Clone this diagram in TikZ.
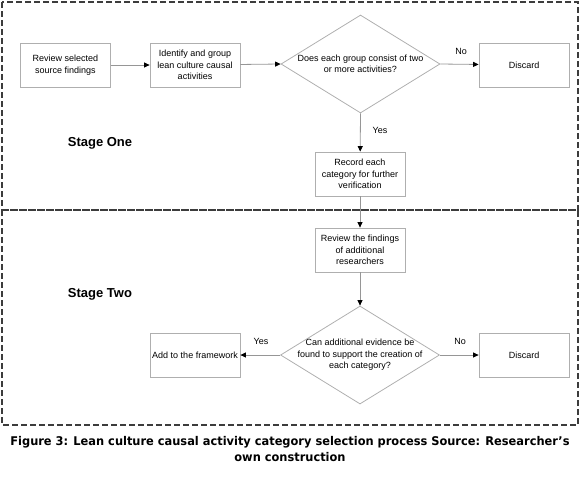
\documentclass[tikz,border=0pt]{standalone}
\usepackage{fontspec}
\setmainfont{Liberation Sans}
\newfontfamily\capfont{DejaVu Sans}
\usetikzlibrary{shapes.geometric,arrows.meta}
\definecolor{boxgray}{RGB}{175,175,175}
\definecolor{linegray}{RGB}{150,150,150}
\definecolor{framegray}{RGB}{60,60,60}
\begin{document}
\begin{tikzpicture}[x=1pt,y=-1pt,
 box/.style={draw=boxgray, line width=0.8pt, minimum width=90pt, minimum height=44pt, inner sep=1pt, align=center, font=\fontsize{9}{11.5}\selectfont},
 dia/.style={draw=boxgray, diamond, inner sep=0pt, minimum width=159pt, minimum height=98pt, line width=0.8pt},
 diatext/.style={align=center, font=\fontsize{9}{11.5}\selectfont},
 flow/.style={draw=linegray, line width=0.8pt, -{Triangle[length=5.5pt,width=5pt,color=black]}},
 lbl/.style={font=\fontsize{9}{11}\selectfont},
 stage/.style={font=\bfseries\fontsize{13}{15}\selectfont},
 frame/.style={draw=framegray, dash pattern=on 6pt off 3pt, line width=1.3pt},
 captext/.style={font=\capfont\bfseries\fontsize{12}{15}\selectfont}]
\useasboundingbox (0,0) rectangle (580,483);
% frames
\draw[frame] (2,2) rectangle (578,210);
\draw[frame] (2,210) rectangle (578,425);
% stage one
\node[box] (b1) at (65.5,65) {Review selected\\source findings};
\node[box] (b2) at (195,65) {Identify and group\\lean culture causal\\activities};
\node[dia] (d1) at (360.5,64) {};
\node[diatext] (d1t) at (d1.center) {Does each group consist of two\\or more activities?};
\node[box] (disc1) at (524,65) {Discard};
\node[box] (rec) at (360,174) {Record each\\category for further\\verification};
\node[stage] (s1) at (100,143) {Stage One};
% stage two
\node[box] (rev) at (360,250) {Review the findings\\of additional\\researchers};
\node[dia] (d2) at (360,355) {};
\node[diatext] (d2t) at (d2.center) {Can additional evidence be\\found to support the creation of\\each category?};
\node[box] (disc2) at (524,355) {Discard};
\node[box] (add) at (195,355) {Add to the framework};
\node[stage] (s2) at (100,294) {Stage Two};
% connectors
\draw[flow] (b1) -- (b2);
\draw[flow] (b2) -- (d1.west);
\draw[flow] (d1.east) -- (disc1);
\draw[flow] (d1.south) -- (rec);
\draw[flow] (rec) -- (rev);
\draw[flow] (rev) -- (d2.north);
\draw[flow] (d2.east) -- (disc2);
\draw[flow] (d2.west) -- (add);
% labels
\node[lbl] (no1) at (461,51) {No};
\node[lbl] (yes1) at (380,130) {Yes};
\node[lbl] (no2) at (460,341) {No};
\node[lbl] (yes2) at (261,341) {Yes};
% caption
\node[captext] (c1) at (290,442) {\scalebox{0.95}[1]{Figure 3: Lean culture causal activity category selection process Source: Researcher’s}};
\node[captext] (c2) at (290,457) {\scalebox{0.95}[1]{own construction}};
\end{tikzpicture}
\end{document}
